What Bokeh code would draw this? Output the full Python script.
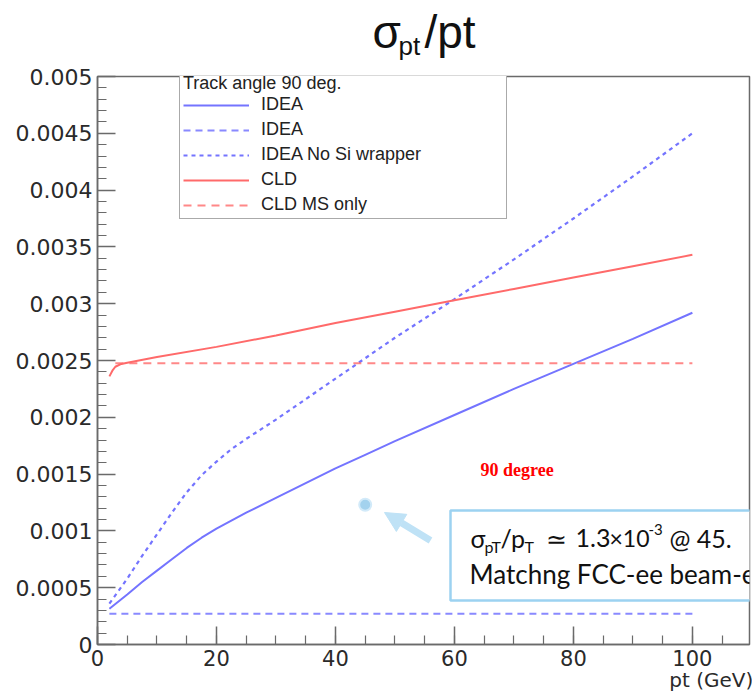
from bokeh.plotting import figure
from bokeh.layouts import column
from bokeh.models import (Range1d, FixedTicker, CustomJSTickFormatter, Legend, LegendItem,
                          Label, BoxAnnotation, Arrow, NormalHead)
from bokeh.embed import file_html
from bokeh.resources import INLINE

# ---------------- data ----------------
idea_pt = [2, 5, 7.5, 10, 12.5, 15, 17.5, 20, 22.5, 25, 30, 35, 40, 45, 50, 60, 70, 80, 90, 100]
idea_res = [0.000315, 0.00044, 0.00055, 0.00065, 0.00075, 0.00085, 0.00094, 0.00102, 0.00109,
            0.00116, 0.00129, 0.00142, 0.00155, 0.00167, 0.00179, 0.00202, 0.00225, 0.00247,
            0.00269, 0.00292]

idea_ms_pt = [2, 100]
idea_ms_res = [0.00027, 0.00027]

nosi_pt = [2, 5, 7.5, 10, 12.5, 15, 17.5, 20, 22.5, 25, 30, 35, 40, 45, 50, 60, 70, 80, 90, 100]
nosi_res = [0.00036, 0.00058, 0.00078, 0.00097, 0.00116, 0.00134, 0.00149, 0.00161, 0.00172,
            0.00181, 0.00198, 0.00216, 0.00234, 0.00252, 0.00270, 0.00304, 0.00339, 0.00375,
            0.00412, 0.00450]

cld_pt = [2, 2.5, 3, 4, 5, 10, 20, 30, 40, 50, 60, 70, 80, 90, 100]
cld_res = [0.00236, 0.00241, 0.002445, 0.00247, 0.00248, 0.00253, 0.00262, 0.00272, 0.00283,
           0.00293, 0.00303, 0.00313, 0.00323, 0.00333, 0.00343]

cld_ms_pt = [3, 100]
cld_ms_res = [0.002475, 0.002475]

marker_pt = [45]
marker_res = [0.00123]

x_tick_values = [0, 20, 40, 60, 80, 100]
x_tick_labels = ["0", "20", "40", "60", "80", "100"]
y_tick_values = [0, 0.0005, 0.001, 0.0015, 0.002, 0.0025, 0.003, 0.0035, 0.004, 0.0045, 0.005]
y_tick_labels = ["0", "0.0005", "0.001", "0.0015", "0.002", "0.0025", "0.003", "0.0035",
                 "0.004", "0.0045", "0.005"]
x_minor_values = [5 * i for i in range(22)]
y_minor_values = [0.0001 * i for i in range(51)]

legend_title = "Track angle 90 deg."
legend_labels = ["IDEA", "IDEA", "IDEA No Si wrapper", "CLD", "CLD MS only"]
x_axis_title = "pt (GeV)"

# ---------------- layout ----------------
W, H = 752, 696
TITLE_H = 60
FL, FR, FT, FB = 97, 749, 76, 644


def sx(px):
    return px - FL


def sy(py):
    return FB - py


BLUE = "#7474ff"
RED = "#ff6a6a"
AXC = "#6a6a6a"
FONT = "Liberation Sans"
TICKFONT = "DejaVu Sans"

# ---- title strip (its frame lines up with the main frame; coordinates = page pixels) ----
tf = figure(width=W, height=TITLE_H, output_backend="svg", toolbar_location=None,
            x_range=Range1d(FL, FR), y_range=Range1d(TITLE_H, 0), title=None,
            x_axis_type=None, y_axis_type=None, min_border=0)
tf.outline_line_color = None
tf.background_fill_color = "white"
tf.border_fill_color = "white"
for txt, px, py, fs in [("σ", 372, 31, "46px"), ("pt", 398, 45, "26px"), ("/pt", 424, 31, "46px")]:
    tf.add_layout(Label(x=px, y=py, text=txt, text_font=FONT, text_font_size=fs,
                        text_color="#111111", text_baseline="middle"))

# ---- main plot ----
p = figure(width=W, height=H - TITLE_H, output_backend="svg", toolbar_location=None,
           x_range=Range1d(0, 109.6), y_range=Range1d(0, 0.005), title=None,
           min_border_left=FL, min_border_right=W - FR, min_border_top=FT - TITLE_H,
           min_border_bottom=H - FB)
p.xgrid.visible = False
p.ygrid.visible = False
p.outline_line_color = AXC
p.outline_line_width = 1.5
p.background_fill_color = "white"
p.border_fill_color = "white"

p.xaxis.ticker = FixedTicker(ticks=x_tick_values, minor_ticks=x_minor_values)
p.yaxis.ticker = FixedTicker(ticks=y_tick_values, minor_ticks=y_minor_values)
fmt_code = "const i = values.findIndex(v => Math.abs(v - tick) < 1e-9); return i >= 0 ? labels[i] : '';"
p.xaxis.formatter = CustomJSTickFormatter(args=dict(values=x_tick_values, labels=x_tick_labels), code=fmt_code)
p.yaxis.formatter = CustomJSTickFormatter(args=dict(values=y_tick_values, labels=y_tick_labels), code=fmt_code)

for ax in (p.xaxis[0], p.yaxis[0]):
    ax.axis_line_color = AXC
    ax.axis_line_width = 1.5
    ax.major_tick_line_color = AXC
    ax.minor_tick_line_color = AXC
    ax.major_tick_line_width = 1.5
    ax.minor_tick_line_width = 1.2
    ax.major_tick_in = 18
    ax.major_tick_out = 0
    ax.minor_tick_in = 9
    ax.minor_tick_out = 0
    ax.major_label_text_font = TICKFONT
    ax.major_label_text_color = "#2a2a2a"
p.xaxis.major_label_text_font_size = "21px"
p.yaxis.major_label_text_font_size = "22px"
p.xaxis.major_label_standoff = 5
p.yaxis.major_label_standoff = 5

# x-axis title, pushed to the right end of the axis (no-break spaces shift its centre)
xa = p.xaxis[0]
xa.axis_label = x_axis_title + "\u00a0" * 12
xa.axis_label_text_font = TICKFONT
xa.axis_label_text_font_size = "20px"
xa.axis_label_text_font_style = "normal"
xa.axis_label_text_color = "#2a2a2a"
xa.axis_label_standoff = -1
try:
    xa.axis_label_align = "end"
except Exception:
    xa.axis_label = x_axis_title

r_idea = p.line(idea_pt, idea_res, line_color=BLUE, line_width=2)
r_idea_ms = p.line(idea_ms_pt, idea_ms_res, line_color=BLUE, line_width=2, line_dash="7 5", line_alpha=0.85)
r_nosi = p.line(nosi_pt, nosi_res, line_color=BLUE, line_width=2.2, line_dash="4 4")
r_cld = p.line(cld_pt, cld_res, line_color=RED, line_width=2)
r_cld_ms = p.line(cld_ms_pt, cld_ms_res, line_color=RED, line_width=2, line_dash="8 6", line_alpha=0.8)

legend = Legend(
    items=[LegendItem(label=legend_labels[0], renderers=[r_idea]),
           LegendItem(label=legend_labels[1], renderers=[r_idea_ms]),
           LegendItem(label=legend_labels[2], renderers=[r_nosi]),
           LegendItem(label=legend_labels[3], renderers=[r_cld]),
           LegendItem(label=legend_labels[4], renderers=[r_cld_ms])],
    title=legend_title, location=(sx(179), sy(219)),
    border_line_color="#555555", border_line_width=1.5,
    background_fill_color="white", background_fill_alpha=1.0,
    label_text_font=FONT, label_text_font_size="18px", label_text_color="#222222",
    title_text_font=FONT, title_text_font_size="18px", title_text_font_style="normal",
    title_text_color="#222222", title_standoff=0,
    padding=3, spacing=4, label_height=20, glyph_height=20, glyph_width=66,
    label_standoff=12, label_width=242, margin=0)
p.add_layout(legend)

# annotation marker + arrow + box
p.scatter(marker_pt, marker_res, size=12, fill_color="#a3d2ee", line_color="#d2eaf9", line_width=2)
p.add_layout(Arrow(x_start=sx(430), y_start=sy(540), x_end=sx(384), y_end=sy(512),
                   start_units="screen", end_units="screen",
                   line_color="#bfe2f6", line_width=7,
                   end=NormalHead(size=20, fill_color="#bfe2f6", line_color="#bfe2f6")))
p.add_layout(BoxAnnotation(left=sx(450), right=sx(800), top=sy(510), bottom=sy(600),
                           left_units="screen", right_units="screen",
                           top_units="screen", bottom_units="screen",
                           fill_color="white", fill_alpha=1.0,
                           line_color="#9cd2f1", line_width=2.5, line_alpha=1.0))

# texts in the box: (text, left x, vertical centre y, size) in page pixels
BOXF = "Lato"
box_pieces = [
    ("σ", 470, 537, "25px"),
    ("pT", 484, 546, "16px"),
    ("/p", 500, 537, "25px"),
    ("T", 524, 546, "16px"),
    ("≃", 545, 537, "25px"),
    ("1.3", 575, 537, "25px"),
    ("×10", 609, 537, "23px"),
    ("-3", 648, 529, "15px"),
    ("@ 45.", 669, 537, "25px"),
    ("Matchng FCC-ee beam-e", 469, 573, "26px"),
]
for txt, px, py, fs in box_pieces:
    p.add_layout(Label(x=sx(px), y=sy(py), x_units="screen", y_units="screen", text=txt,
                       text_font=BOXF, text_font_size=fs, text_color="#111111",
                       text_baseline="middle"))

# "90 degree"
p.add_layout(Label(x=sx(480), y=sy(469), x_units="screen", y_units="screen", text="90 degree",
                   text_font="Liberation Serif", text_font_style="bold", text_font_size="18px",
                   text_color="#ff0000", text_baseline="middle"))

layout = column(tf, p, spacing=0)
open("out.html", "w").write(file_html(layout, INLINE))
